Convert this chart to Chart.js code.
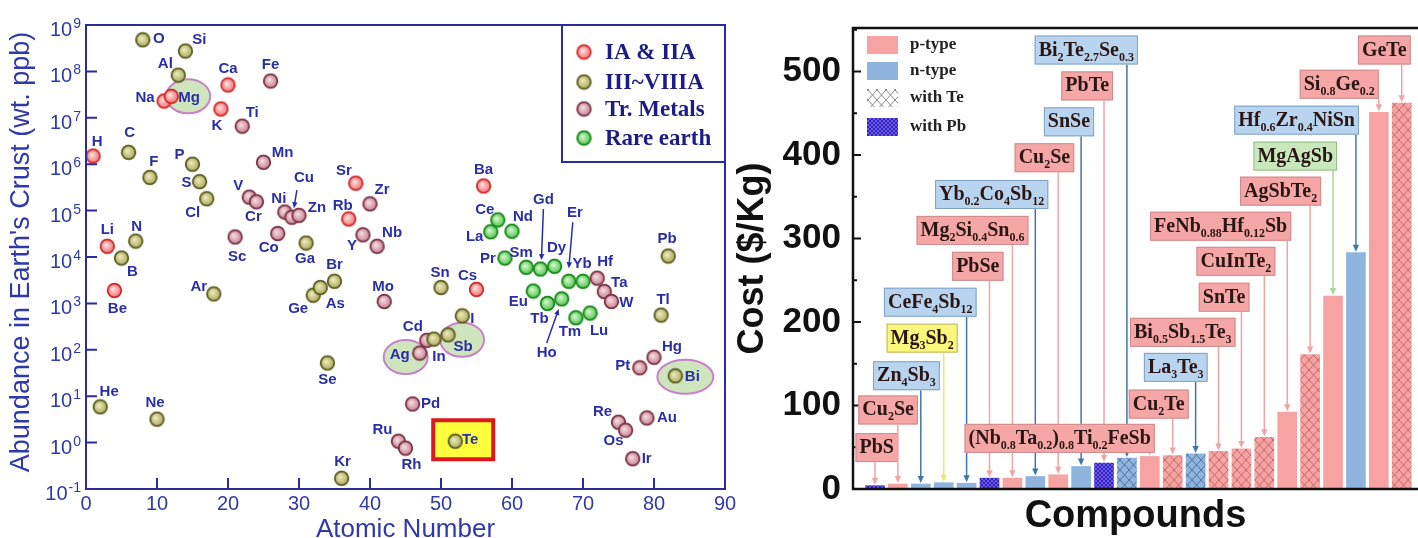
<!DOCTYPE html>
<html>
<head>
<meta charset="utf-8">
<script src="https://cdn.jsdelivr.net/npm/chart.js@4.4.0/dist/chart.umd.min.js"></script>
<style>
  body { margin: 0; background: #fff; width: 1418px; height: 538px; overflow: hidden; position: relative; }
  #left { position: absolute; left: 0; top: 0; }
  #right { position: absolute; left: 733px; top: 0; }
</style>
</head>
<body>
<canvas id="left" width="745" height="538"></canvas>
<canvas id="right" width="685" height="538"></canvas>
<script>
// --- Left panel: abundance of elements ---
const symbols = ['H','He','Li','Be','B','C','N','O','F','Ne','Na','Mg','Al','Si','P','S','Cl','Ar',
  'K','Ca','Sc','Ti','V','Cr','Mn','Fe','Co','Ni','Cu','Zn','Ga','Ge','As','Se','Br','Kr',
  'Rb','Sr','Y','Zr','Nb','Mo','Ru','Rh','Pd','Ag','Cd','In','Sn','Sb','Te','I',
  'Cs','Ba','La','Ce','Pr','Nd','Sm','Eu','Gd','Tb','Dy','Ho','Er','Tm','Yb','Lu',
  'Hf','Ta','W','Re','Os','Ir','Pt','Au','Hg','Tl','Pb','Bi'];
const atomicNumbers = [1,2,3,4,5,6,7,8,9,10,11,12,13,14,15,16,17,18,
  19,20,21,22,23,24,25,26,27,28,29,30,31,32,33,34,35,36,
  37,38,39,40,41,42,44,45,46,47,48,49,50,51,52,53,
  55,56,57,58,59,60,62,63,64,65,66,67,68,69,70,71,
  72,73,74,75,76,77,78,79,80,81,82,83];
// wt. ppb
const abundance = [1.5e6,5.9,1.7e4,1.9e3,9.5e3,1.8e6,2.2e4,4.8e8,5.2e5,3.2,2.3e7,2.9e7,8.3e7,2.75e8,1.0e6,4.2e5,1.8e5,1.6e3,
  1.55e7,5.1e7,2.7e4,6.6e6,1.95e5,1.55e5,1.1e6,6.2e7,3.2e4,9.3e4,7.2e4,7.9e4,2.0e4,1.5e3,2.2e3,52,3.0e3,0.17,
  6.6e4,3.9e5,3.0e4,1.4e5,1.7e4,1.1e3,1.07,0.76,6.8,85,160,170,2.2e3,210,1.07,540,
  2.0e3,3.4e5,3.5e4,6.3e4,9.5e3,3.6e4,6.0e3,1.85e3,5.5e3,1.0e3,6.3e3,1.25e3,3.0e3,490,3.0e3,620,
  3.5e3,1.8e3,1.1e3,2.75,1.85,0.45,41,3.4,69,560,1.05e4,27.5];
// a: IA & IIA, m: III~VIIIA, t: transition metals, r: rare earth
const groups = ['a','m','a','a','m','m','m','m','m','m','a','a','m','m','m','m','m','m',
  'a','a','t','t','t','t','t','t','t','t','t','t','m','m','m','m','m','m',
  'a','a','t','t','t','t','t','t','t','t','t','m','m','m','m','m',
  'a','a','r','r','r','r','r','r','r','r','r','r','r','r','r','r',
  't','t','t','t','t','t','t','t','t','m','m','m'];
const groupKeys = ['a','m','t','r'];
const groupNames = ['IA & IIA','III~VIIIA','Tr. Metals','Rare earth'];
const decades = [-1,0,1,2,3,4,5,6,7,8,9];

// label placement (px from the point)
const labelDx = [4,9,0,3,11,1,1,16,4,-2,-19,18,-13,14,-13,-13,-14,-15,
  -4,0,2,10,-11,-3,19,0,-9,-6,12,18,-1,-15,15,0,0,1,
  -6,-12,-11,12,15,-1,-16,6,18,-20,-14,5,-1,15,15,10,
  -9,0,-16,-13,-17,11,-5,-15,3,-8,2,-15,6,-6,-1,9,
  8,15,15,-16,-12,14,-17,20,18,2,-1,17];
const labelDy = [-14,-15,-16,18,14,-19,-14,-1,-16,-16,-3,2,-11,-11,-9,1,14,-7,
  17,-16,20,-13,-11,15,-9,-16,14,-13,-39,-7,16,14,16,17,-16,-16,
  -13,-12,11,-14,-13,-15,-11,17,0,2,-13,18,-15,12,-1,3,
  -14,-16,5,-10,1,-14,-14,11,-69,15,-18,54,-68,14,-17,18,
  -16,-9,1,-10,11,0,-2,0,-10,-15,-17,1];
const pointerArrows = [
  { s: 'Cu', a: [5, -27, 2, -9] },
  { s: 'Gd', a: [3, -60, 1, -9] },
  { s: 'Er', a: [4, -59, 0, -13] },
  { s: 'Ho', a: [-15, 44, -3, 10] }
];
const highlights = [
  { s: 'Mg', dx: 17, dy: 0, rx: 22, ry: 17 },
  { s: 'Ag', dx: -14, dy: 4, rx: 22, ry: 17 },
  { s: 'Sb', dx: 14, dy: 5, rx: 22, ry: 17 },
  { s: 'Bi', dx: 10, dy: 1, rx: 28, ry: 17 }
];

// --- Right panel: cost of compounds ---
const compounds = ['PbS','Cu_2Se','Zn_4Sb_3','Mg_3Sb_2','CeFe_4Sb_12','PbSe','Mg_2Si_0.4Sn_0.6','Yb_0.2Co_4Sb_12',
  'Cu_2Se','SnSe','PbTe','Bi_2Te_2.7Se_0.3','(Nb_0.8Ta_0.2)_0.8Ti_0.2FeSb','Cu_2Te','La_3Te_3','Bi_0.5Sb_1.5Te_3',
  'SnTe','CuInTe_2','FeNb_0.88Hf_0.12Sb','AgSbTe_2','MgAgSb','Hf_0.6Zr_0.4NiSn','Si_0.8Ge_0.2','GeTe'];
const costs = [4,6,6,7.5,7,13,13,15,17,27,31,37,39,40,42,45,48,62,92,161,231,283,451,462];
const carrierType = ['p','p','n','n','n','p','p','n','p','n','p','n','p','p','n','p','p','p','p','p','p','n','p','p'];
const contains = ['Pb','','','','','Pb','','','','','Pb','Te','','Te','Te','Te','Te','Te','','Te','','','','Te'];
const tagKind = ['p','p','n','y','n','p','p','n','p','n','p','n','p','p','n','p','p','p','p','p','g','n','p','p'];
const costTicks = [0,100,200,300,400,500];
const legendTypes = ['p-type','n-type','with Te','with Pb'];

// tag box layout: top edge in $/Kg, right edge in px from bar centre
const tagLevel = [67,112,153,198,241,284,327,370,414,457,500,543,78,119,163,205,247,290,332,374,416,459,502,543];
const tagShift = [23,20,19,14,10,14,16,13,16,13,9,11,5,16,12,17,8,11,4,11,4,3,0,9];

const AX = '#2b2b9e';
const TXT = '#2f3aa8';
const SANS = '"Liberation Sans", Arial, sans-serif';
const SERIF = '"Liberation Serif", "Times New Roman", serif';

function sphere(c0, c1, edge) {
    const cv = document.createElement('canvas');
    cv.width = 17; cv.height = 17;
    const g = cv.getContext('2d');
    const grd = g.createRadialGradient(7, 7, 0.5, 8.5, 8.5, 7.5);
    grd.addColorStop(0, c0);
    grd.addColorStop(1, c1);
    g.beginPath();
    g.arc(8.5, 8.5, 6.8, 0, Math.PI * 2);
    g.fillStyle = grd;
    g.fill();
    g.lineWidth = 1.8;
    g.strokeStyle = edge;
    g.stroke();
    return cv;
}

const spheres = {
    a: sphere('#ffe0e0', '#f06a6a', '#d42626'),
    m: sphere('#ecebbc', '#a6a555', '#5c5c22'),
    t: sphere('#f6dbe2', '#c27a8b', '#7a3145'),
    r: sphere('#d4f8cc', '#48bf48', '#168716')
};

function arrow(ctx, x1, y1, x2, y2, color, head) {
    const ang = Math.atan2(y2 - y1, x2 - x1);
    ctx.strokeStyle = color;
    ctx.fillStyle = color;
    ctx.beginPath();
    ctx.moveTo(x1, y1);
    ctx.lineTo(x2 - Math.cos(ang) * head * 0.8, y2 - Math.sin(ang) * head * 0.8);
    ctx.stroke();
    ctx.beginPath();
    ctx.moveTo(x2, y2);
    ctx.lineTo(x2 - head * Math.cos(ang) + head * 0.45 * Math.sin(ang), y2 - head * Math.sin(ang) - head * 0.45 * Math.cos(ang));
    ctx.lineTo(x2 - head * Math.cos(ang) - head * 0.45 * Math.sin(ang), y2 - head * Math.sin(ang) + head * 0.45 * Math.cos(ang));
    ctx.closePath();
    ctx.fill();
}

function pointPos(chart, s) {
    const i = symbols.indexOf(s);
    return {
        x: chart.scales.x.getPixelForValue(atomicNumbers[i]),
        y: chart.scales.y.getPixelForValue(abundance[i])
    };
}

const leftDecor = {
    id: 'leftDecor',
    beforeDatasetsDraw(chart) {
        const ctx = chart.ctx;
        ctx.save();
        highlights.forEach(h => {
            const p = pointPos(chart, h.s);
            ctx.beginPath();
            ctx.ellipse(p.x + h.dx, p.y + h.dy, h.rx, h.ry, 0, 0, Math.PI * 2);
            ctx.fillStyle = '#cfe5bd';
            ctx.fill();
            ctx.lineWidth = 2;
            ctx.strokeStyle = '#c683c9';
            ctx.stroke();
        });
        // Te box
        const te = pointPos(chart, 'Te');
        ctx.fillStyle = '#ffff3c';
        ctx.fillRect(te.x - 22, te.y - 21, 60, 39);
        ctx.lineWidth = 4;
        ctx.strokeStyle = '#e0181c';
        ctx.strokeRect(te.x - 22, te.y - 21, 60, 39);
        ctx.restore();
    },
    afterDatasetsDraw(chart) {
        const ctx = chart.ctx, ca = chart.chartArea;
        const xs = chart.scales.x, ys = chart.scales.y;
        ctx.save();

        // element labels
        ctx.font = 'bold 15px ' + SANS;
        ctx.fillStyle = '#2a2fa6';
        ctx.textAlign = 'center';
        ctx.textBaseline = 'middle';
        symbols.forEach((s, i) => {
            const px = xs.getPixelForValue(atomicNumbers[i]);
            const py = ys.getPixelForValue(abundance[i]);
            ctx.fillText(s, px + labelDx[i], py + labelDy[i]);
        });
        ctx.lineWidth = 1.5;
        pointerArrows.forEach(pa => {
            const p = pointPos(chart, pa.s);
            arrow(ctx, p.x + pa.a[0], p.y + pa.a[1], p.x + pa.a[2], p.y + pa.a[3], '#2a2fa6', 6);
        });

        // frame and ticks
        ctx.strokeStyle = AX;
        ctx.lineWidth = 2;
        ctx.strokeRect(ca.left, ca.top, ca.right - ca.left, ca.bottom - ca.top);
        ctx.beginPath();
        for (let v = 10; v < 90; v += 10) {
            const x = xs.getPixelForValue(v);
            ctx.moveTo(x, ca.bottom);
            ctx.lineTo(x, ca.bottom - 11);
        }
        decades.forEach(e => {
            const y = ys.getPixelForValue(Math.pow(10, e));
            ctx.moveTo(ca.left, y);
            ctx.lineTo(ca.left + 11, y);
        });
        ctx.stroke();

        // log tick labels 10^n
        ctx.fillStyle = TXT;
        ctx.textAlign = 'left';
        ctx.textBaseline = 'alphabetic';
        decades.forEach(e => {
            const y = ys.getPixelForValue(Math.pow(10, e));
            ctx.font = '14px ' + SANS;
            const ex = String(e);
            const ew = ctx.measureText(ex).width;
            ctx.font = '20px ' + SANS;
            const bw = ctx.measureText('10').width;
            const x0 = 80 - ew - bw;
            ctx.fillText('10', x0, y + 11);
            ctx.font = '14px ' + SANS;
            ctx.fillText(ex, x0 + bw + 1, y + 3);
        });

        // axis titles
        ctx.font = '26px ' + SANS;
        ctx.textAlign = 'center';
        ctx.fillText('Atomic Number', (ca.left + ca.right) / 2, 537);
        ctx.save();
        ctx.translate(22, 252);
        ctx.rotate(-Math.PI / 2);
        ctx.textBaseline = 'middle';
        ctx.font = '27px ' + SANS;
        ctx.fillText("Abundance in Earth's Crust (wt. ppb)", 0, 0);
        ctx.restore();

        // legend
        const lx = 562, ly = ca.top;
        ctx.lineWidth = 2;
        ctx.strokeStyle = AX;
        ctx.strokeRect(lx, ly, ca.right - lx, 137);
        const rows = [27, 57, 84, 113];
        ctx.font = 'bold 23px ' + SERIF;
        ctx.fillStyle = '#1c1c86';
        ctx.textAlign = 'left';
        ctx.textBaseline = 'middle';
        groupKeys.forEach((k, i) => {
            const img = spheres[k];
            ctx.drawImage(img, lx + 22 - img.width / 2, ly + rows[i] - img.height / 2);
            ctx.fillText(groupNames[i], lx + 43, ly + rows[i] + 1);
        });
        ctx.restore();
    }
};

const scatterSets = groupKeys.map(k => ({
    label: groupNames[groupKeys.indexOf(k)],
    data: atomicNumbers.map((z, i) => ({ x: z, y: abundance[i] })).filter((p, i) => groups[i] === k),
    pointStyle: spheres[k],
    pointRadius: 8,
    showLine: false
}));

new Chart(document.getElementById('left'), {
    type: 'scatter',
    data: { datasets: scatterSets },
    options: {
        responsive: false,
        animation: false,
        layout: { padding: { top: 25, right: 20, left: 0, bottom: 0 } },
        plugins: { legend: { display: false }, tooltip: { enabled: false } },
        scales: {
            x: {
                type: 'linear', min: 0, max: 90,
                ticks: { stepSize: 10, color: TXT, font: { family: SANS, size: 20 }, padding: -5, maxRotation: 0 },
                grid: { display: false }, border: { display: false },
                afterFit(s) { s.height = 49; }
            },
            y: {
                type: 'logarithmic', min: 0.1, max: 1e9,
                ticks: { display: false },
                grid: { display: false }, border: { display: false },
                afterFit(s) { s.width = 86; }
            }
        }
    },
    plugins: [leftDecor]
});

// --- Right panel ---
const rctx = document.getElementById('right').getContext('2d');
const BAR = { p: '#f7a3a3', n: '#8fb4de' };
const HATCH = { p: '#c46a6a', n: '#4d76a5' };
const TAG = {
    p: { fill: '#f5a6a6', edge: '#cf8b8b', line: '#f0a5a5' },
    n: { fill: '#b9d4ee', edge: '#7fa3c6', line: '#3e77aa' },
    y: { fill: '#fbf77c', edge: '#bab46a', line: '#ebe86c' },
    g: { fill: '#c9e8bc', edge: '#8fbf83', line: '#a5da95' }
};

function crossPattern(base, line) {
    const t = document.createElement('canvas');
    t.width = 9; t.height = 10;
    const g = t.getContext('2d');
    g.fillStyle = base;
    g.fillRect(0, 0, 9, 10);
    g.strokeStyle = line;
    g.lineWidth = 1;
    g.beginPath();
    g.moveTo(0, 0); g.lineTo(9, 10);
    g.moveTo(9, 0); g.lineTo(0, 10);
    g.stroke();
    return rctx.createPattern(t, 'repeat');
}

function leadPattern() {
    const t = document.createElement('canvas');
    t.width = 4; t.height = 4;
    const g = t.getContext('2d');
    g.fillStyle = '#6a58ea';
    g.fillRect(0, 0, 4, 4);
    g.fillStyle = '#3424b8';
    g.fillRect(0, 0, 2, 2);
    g.fillRect(2, 2, 2, 2);
    return rctx.createPattern(t, 'repeat');
}

const fills = {
    p: BAR.p, n: BAR.n,
    pTe: crossPattern(BAR.p, HATCH.p),
    nTe: crossPattern(BAR.n, HATCH.n),
    Pb: leadPattern(),
    legendTe: crossPattern('#ffffff', '#8a8a8a')
};

const barColors = costs.map((c, i) => {
    if (contains[i] === 'Pb') return fills.Pb;
    if (contains[i] === 'Te') return fills[carrierType[i] + 'Te'];
    return fills[carrierType[i]];
});

function richParts(s) {
    const parts = [];
    const re = /_([0-9.]+)/g;
    let last = 0, m;
    while ((m = re.exec(s))) {
        if (m.index > last) parts.push({ t: s.slice(last, m.index), sub: false });
        parts.push({ t: m[1], sub: true });
        last = re.lastIndex;
    }
    if (last < s.length) parts.push({ t: s.slice(last), sub: false });
    return parts;
}

const MAIN_FONT = 'bold 20px ' + SERIF;
const SUB_FONT = 'bold 12px ' + SERIF;

function richWidth(ctx, parts) {
    let w = 0;
    parts.forEach(p => {
        ctx.font = p.sub ? SUB_FONT : MAIN_FONT;
        w += ctx.measureText(p.t).width;
    });
    return w;
}

function richDraw(ctx, parts, x, y) {
    parts.forEach(p => {
        ctx.font = p.sub ? SUB_FONT : MAIN_FONT;
        ctx.fillText(p.t, x, p.sub ? y + 5 : y);
        x += ctx.measureText(p.t).width;
    });
}

const rightDecor = {
    id: 'rightDecor',
    afterDatasetsDraw(chart) {
        const ctx = chart.ctx, ca = chart.chartArea;
        const xs = chart.scales.x, ys = chart.scales.y;
        ctx.save();

        // frame
        ctx.strokeStyle = '#111';
        ctx.lineWidth = 2.5;
        ctx.beginPath();
        ctx.moveTo(ca.right + 2, ca.top);
        ctx.lineTo(ca.left, ca.top);
        ctx.lineTo(ca.left, ca.bottom);
        ctx.lineTo(ca.right + 2, ca.bottom);
        ctx.stroke();
        ctx.lineWidth = 2;
        ctx.beginPath();
        for (let v = 50; v <= 550; v += 50) {
            const y = ys.getPixelForValue(v);
            ctx.moveTo(ca.left, y);
            ctx.lineTo(ca.left + (v % 100 === 0 ? 8 : 4), y);
        }
        ctx.stroke();

        // tag boxes with pointers
        ctx.textAlign = 'left';
        ctx.textBaseline = 'alphabetic';
        compounds.forEach((name, i) => {
            const st = TAG[tagKind[i]];
            const bx = xs.getPixelForValue(i);
            const top = ys.getPixelForValue(tagLevel[i]);
            const parts = richParts(name);
            const w = richWidth(ctx, parts) + 8;
            const right = bx + tagShift[i];
            const left = right - w;
            const h = 29;
            ctx.lineWidth = 1.5;
            arrow(ctx, bx, top + h, bx, ys.getPixelForValue(costs[i]) - 1, st.line, 7);
            ctx.fillStyle = st.fill;
            ctx.fillRect(left, top, w, h);
            ctx.lineWidth = 1;
            ctx.strokeStyle = st.edge;
            ctx.strokeRect(left + 0.5, top + 0.5, w - 1, h - 1);
            ctx.fillStyle = '#2b1616';
            richDraw(ctx, parts, left + 4, top + 20);
        });

        // legend
        const lx = ca.left + 14, rows = [8, 34, 61, 90];
        const sw = [BAR.p, BAR.n, fills.legendTe, fills.Pb];
        ctx.font = 'bold 17px ' + SERIF;
        ctx.textBaseline = 'middle';
        legendTypes.forEach((t, i) => {
            const y = ca.top + rows[i];
            ctx.fillStyle = sw[i];
            ctx.fillRect(lx, y, 31, 18);
            ctx.fillStyle = '#222';
            ctx.fillText(t, ca.left + 57, y + 9);
        });

        // axis titles
        ctx.fillStyle = '#111';
        ctx.font = 'bold 38px ' + SANS;
        ctx.textAlign = 'center';
        ctx.textBaseline = 'alphabetic';
        ctx.fillText('Compounds', (ca.left + ca.right) / 2, 527);
        ctx.save();
        ctx.translate(30, (ca.top + ca.bottom) / 2);
        ctx.rotate(-Math.PI / 2);
        ctx.font = 'bold 36px ' + SANS;
        ctx.fillText('Cost ($/Kg)', 0, 0);
        ctx.restore();
        ctx.restore();
    }
};

new Chart(rctx, {
    type: 'bar',
    data: {
        datasets: [{
            label: 'Cost',
            data: costs.map((c, i) => ({ x: i, y: c })),
            backgroundColor: barColors,
            borderWidth: 0,
            barThickness: 19
        }]
    },
    options: {
        responsive: false,
        animation: false,
        layout: { padding: { top: 28, right: 0, left: 0, bottom: 0 } },
        plugins: { legend: { display: false }, tooltip: { enabled: false } },
        scales: {
            x: {
                type: 'linear', min: -0.96, max: 23.71, offset: false,
                ticks: { display: false },
                grid: { display: false }, border: { display: false },
                afterFit(s) { s.height = 49; }
            },
            y: {
                min: 0, max: 552,
                afterBuildTicks(s) { s.ticks = costTicks.map(v => ({ value: v })); },
                ticks: { color: '#111', font: { family: SANS, size: 35, weight: 'bold' }, padding: 4 },
                grid: { display: false }, border: { display: false },
                afterFit(s) { s.width = 120; }
            }
        }
    },
    plugins: [rightDecor]
});
</script>
</body>
</html>
